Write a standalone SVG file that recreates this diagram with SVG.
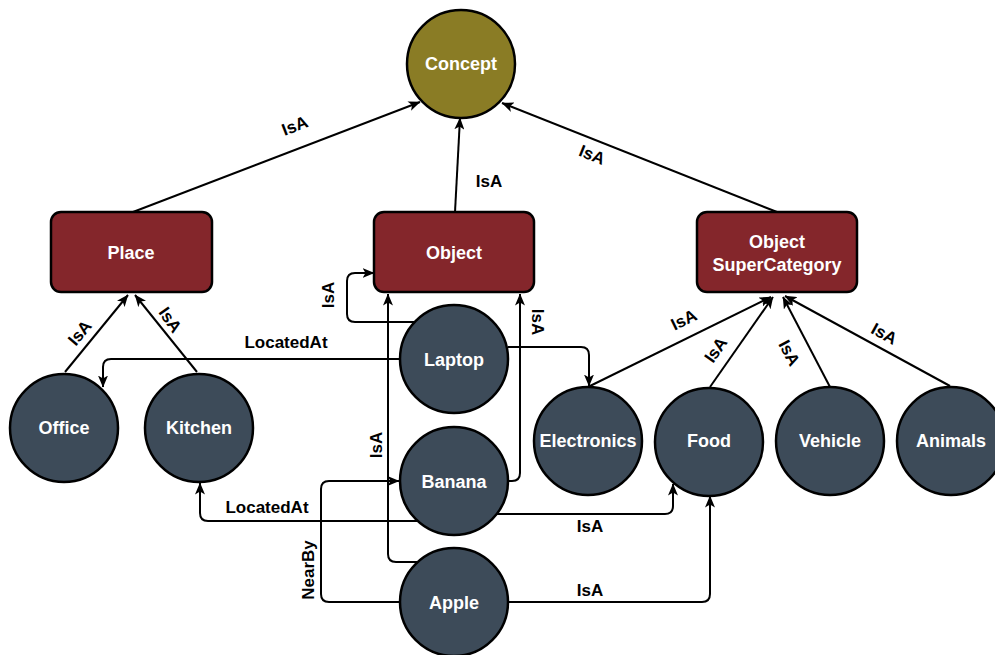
<svg xmlns="http://www.w3.org/2000/svg" width="995" height="655" viewBox="0 0 995 655">
<defs>
<marker id="arr" viewBox="0 0 12 10" refX="11.5" refY="5" markerWidth="12" markerHeight="10" markerUnits="userSpaceOnUse" orient="auto">
<path d="M0,0 L12,5 L0,10 L3,5 z" fill="#000"/>
</marker>
<style>
.c{fill:#3d4b59;stroke:#000;stroke-width:2.5}
.r{fill:#84262b;stroke:#000;stroke-width:2.5}
.k{fill:#8a7c25;stroke:#000;stroke-width:2.5}
.t{font-family:"Liberation Sans",Arial,sans-serif;font-weight:bold;font-size:18px;fill:#fff;text-anchor:middle;dominant-baseline:central}
.e{fill:none;stroke:#000;stroke-width:2;marker-end:url(#arr)}
.l{font-family:"Liberation Sans",Arial,sans-serif;font-weight:bold;font-size:17px;fill:#000;text-anchor:middle;dominant-baseline:central}
</style>
</defs>
<rect width="995" height="655" fill="#fff"/>
<g id="edges">
<path class="e" d="M133,212 L420,102"/>
<path class="e" d="M455,212 L460,118"/>
<path class="e" d="M777,212 L502,103"/>
<path class="e" d="M65,372 L128,295"/>
<path class="e" d="M197,372 L135,295"/>
<path class="e" d="M400,359 H111 Q103,359 103,367 V387"/>
<path class="e" d="M415,322 H355 Q347,322 347,314 V281 Q347,273 355,273 H374"/>
<path class="e" d="M508,347 H581 Q589,347 589,355 V386"/>
<path class="e" d="M417,562 H396 Q388,562 388,554 V294"/>
<path class="e" d="M508,481 H512 Q520,481 520,473 V294"/>
<path class="e" d="M418,521 H208 Q200,521 200,513 V483"/>
<path class="e" d="M400,602 H329 Q321,602 321,594 V489 Q321,481 329,481 H399"/>
<path class="e" d="M497,514 H665 Q673,514 673,506 V484"/>
<path class="e" d="M508,602 H702 Q710,602 710,594 V496"/>
<path class="e" d="M590,386 L771,297"/>
<path class="e" d="M710,387 L773,297"/>
<path class="e" d="M830,387 L783,297"/>
<path class="e" d="M950,386 L785,296"/>
<text class="l" transform="translate(295,126) rotate(-21)">IsA</text>
<text class="l" x="489" y="181">IsA</text>
<text class="l" transform="translate(592,155) rotate(22)">IsA</text>
<text class="l" transform="translate(80,333) rotate(-50)">IsA</text>
<text class="l" transform="translate(170,320) rotate(55)">IsA</text>
<text class="l" x="286" y="342">LocatedAt</text>
<text class="l" transform="translate(328,295) rotate(-90)">IsA</text>
<text class="l" transform="translate(376,445) rotate(-90)">IsA</text>
<text class="l" transform="translate(537,322) rotate(90)">IsA</text>
<text class="l" x="267" y="507">LocatedAt</text>
<text class="l" transform="translate(308,570) rotate(-90)">NearBy</text>
<text class="l" x="590" y="526">IsA</text>
<text class="l" x="590" y="590">IsA</text>
<text class="l" transform="translate(684,320) rotate(-26)">IsA</text>
<text class="l" transform="translate(716,350) rotate(-55)">IsA</text>
<text class="l" transform="translate(789,353) rotate(62)">IsA</text>
<text class="l" transform="translate(884,334) rotate(29)">IsA</text>
</g>
<g id="concept"><circle class="k" cx="461" cy="64" r="54"/><text class="t" x="461" y="64">Concept</text></g>
<g id="place"><rect class="r" x="51" y="212" width="161" height="80" rx="10"/><text class="t" x="131" y="253">Place</text></g>
<g id="object"><rect class="r" x="374" y="212" width="160" height="80" rx="10"/><text class="t" x="454" y="253">Object</text></g>
<g id="objectsupercategory"><rect class="r" x="697" y="212" width="160" height="80" rx="10"/><text class="t" x="777" y="242">Object</text><text class="t" x="777" y="265">SuperCategory</text></g>
<g id="office"><circle class="c" cx="64" cy="428" r="54"/><text class="t" x="64" y="428">Office</text></g>
<g id="kitchen"><circle class="c" cx="199" cy="428" r="54"/><text class="t" x="199" y="428">Kitchen</text></g>
<g id="laptop"><circle class="c" cx="454" cy="359" r="54"/><text class="t" x="454" y="360">Laptop</text></g>
<g id="banana"><circle class="c" cx="454" cy="481" r="54"/><text class="t" x="454" y="482">Banana</text></g>
<g id="apple"><circle class="c" cx="454" cy="602" r="54"/><text class="t" x="454" y="603">Apple</text></g>
<g id="electronics"><circle class="c" cx="588" cy="441" r="54"/><text class="t" x="588" y="441">Electronics</text></g>
<g id="food"><circle class="c" cx="709" cy="442" r="54"/><text class="t" x="709" y="441">Food</text></g>
<g id="vehicle"><circle class="c" cx="830" cy="441" r="54"/><text class="t" x="830" y="441">Vehicle</text></g>
<g id="animals"><circle class="c" cx="951" cy="441" r="54"/><text class="t" x="951" y="441">Animals</text></g>
</svg>
